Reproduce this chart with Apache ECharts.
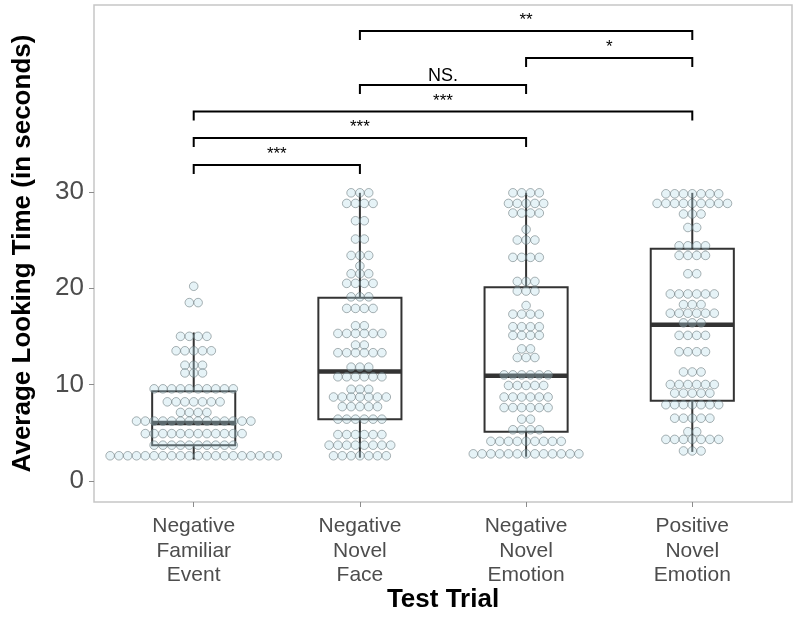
<!DOCTYPE html>
<html>
<head>
<meta charset="utf-8">
<script src="https://cdn.jsdelivr.net/npm/echarts@6/dist/echarts.min.js"></script>
<style>html,body{margin:0;padding:0;background:#fff}#c{width:800px;height:632px}</style>
</head>
<body>
<div id="c"></div>
<script>
// ---- data ----
const categories = ['Negative\nFamiliar\nEvent', 'Negative\nNovel\nFace', 'Negative\nNovel\nEmotion', 'Positive\nNovel\nEmotion'];
const yTickValues = [0, 10, 20, 30];

// dot-plot bins: [looking time (s), number of infants in that bin]
const dotsNegFamiliarEvent = [[20.2,1],[18.5,2],[15.0,4],[13.5,5],[12.0,3],[11.2,3],[9.55,10],[8.2,7],[7.1,4],[6.2,14],[4.9,12],[3.7,10],[2.6,20]];
const dotsNegNovelFace = [[29.9,3],[28.8,4],[27.0,2],[25.1,2],[23.4,3],[22.3,1],[21.5,3],[20.5,4],[19.1,3],[17.9,4],[16.1,2],[15.3,6],[14.1,2],[13.3,6],[11.8,3],[10.8,6],[9.5,3],[8.7,7],[7.7,5],[6.4,6],[4.8,6],[3.7,8],[2.6,7]];
const dotsNegNovelEmotion = [[29.9,4],[28.8,5],[27.8,4],[26.1,1],[25.0,3],[23.2,4],[20.7,3],[19.7,3],[18.2,1],[17.3,4],[16.0,4],[15.1,4],[13.7,2],[12.8,3],[11.0,6],[9.9,5],[8.7,6],[7.6,6],[6.4,2],[5.3,4],[4.1,9],[2.8,13]];
const dotsPosNovelEmotion = [[29.8,7],[28.8,9],[27.7,3],[26.3,2],[24.4,4],[23.4,4],[21.5,2],[19.4,6],[18.3,3],[17.4,6],[16.4,3],[15.1,4],[13.4,4],[11.3,3],[10.0,6],[9.1,5],[7.9,7],[6.5,5],[5.1,2],[4.3,7],[3.1,3]];

// box stats: [lower whisker, Q1, median, Q3, upper whisker]
const boxNegFamiliarEvent = [2.2, 3.7, 6.0, 9.3, 15.4];
const boxNegNovelFace = [2.4, 6.4, 11.35, 19.0, 29.9];
const boxNegNovelEmotion = [2.5, 5.1, 10.9, 20.1, 29.9];
const boxPosNovelEmotion = [3.0, 8.3, 16.2, 24.1, 29.9];

// significance brackets: [from group, to group, height (s), label]
const brackets = [[1,2,32.8,'***'],[1,3,35.6,'***'],[1,4,38.35,'***'],[2,3,41.1,'NS.'],[3,4,43.9,'*'],[2,4,46.7,'**']];

// ---- build chart ----
const FONT = "'Liberation Sans', Arial, Helvetica, sans-serif";
const dotGroups = [dotsNegFamiliarEvent, dotsNegNovelFace, dotsNegNovelEmotion, dotsPosNovelEmotion];
const dotData = [];
dotGroups.forEach((g, i) => g.forEach(([v, n]) => dotData.push([i + 1, v, n])));
const boxData = [boxNegFamiliarEvent, boxNegNovelFace, boxNegNovelEmotion, boxPosNovelEmotion].map((b, i) => [i + 1, ...b]);
const bracketData = brackets.map(b => [b[0], b[1], b[2]]);

const DOT_STEP = 8.8, DOT_R = 4.3;
const chart = echarts.init(document.getElementById('c'));
chart.setOption({
  animation: false,
  grid: {left: 94, right: 8, top: 5, bottom: 130, show: true, borderColor: '#c6c6c6', borderWidth: 1.5, backgroundColor: '#fff'},
  xAxis: {
    type: 'value', min: 0.4, max: 4.6,
    axisLine: {show: false, onZero: false}, splitLine: {show: false},
    axisTick: {show: true, customValues: [1, 2, 3, 4], length: 5, lineStyle: {color: '#8c8c8c', width: 1}},
    axisLabel: {customValues: [1, 2, 3, 4], formatter: v => categories[Math.round(v) - 1], fontSize: 21, lineHeight: 24.5, color: '#4d4d4d', fontFamily: FONT, margin: 12},
    name: 'Test Trial', nameLocation: 'middle', nameGap: 85, nameMoveOverlap: false,
    nameTextStyle: {fontSize: 26, fontWeight: 'bold', color: '#000', fontFamily: FONT}
  },
  yAxis: {
    type: 'value', min: -2.2, max: 49.4,
    axisLine: {show: false, onZero: false}, splitLine: {show: false},
    axisTick: {show: true, customValues: yTickValues, length: 5, lineStyle: {color: '#8c8c8c', width: 1}},
    axisLabel: {customValues: yTickValues, fontSize: 26, color: '#4d4d4d', fontFamily: FONT, margin: 10},
    name: 'Average Looking Time (in seconds)', nameLocation: 'middle', nameGap: 58, nameRotate: 90,
    nameTextStyle: {fontSize: 26, fontWeight: 'bold', color: '#000', fontFamily: FONT}
  },
  series: [
    {
      type: 'custom', z: 2, data: boxData,
      encode: {x: 0, y: [1, 2, 3, 4, 5]},
      renderItem(params, api) {
        const x = api.value(0);
        const lo = api.value(1), q1 = api.value(2), med = api.value(3), q3 = api.value(4), hi = api.value(5);
        const hw = 0.25;
        const c = (xx, v) => api.coord([xx, v]);
        const tl = c(x - hw, q3), br = c(x + hw, q1);
        const st = {stroke: '#333', lineWidth: 2};
        return {type: 'group', children: [
          {type: 'line', shape: {x1: c(x, hi)[0], y1: c(x, hi)[1], x2: c(x, q3)[0], y2: c(x, q3)[1]}, style: st},
          {type: 'line', shape: {x1: c(x, lo)[0], y1: c(x, lo)[1], x2: c(x, q1)[0], y2: c(x, q1)[1]}, style: st},
          {type: 'rect', shape: {x: tl[0], y: tl[1], width: br[0] - tl[0], height: br[1] - tl[1]}, style: {fill: 'none', stroke: '#333', lineWidth: 2}},
          {type: 'line', shape: {x1: c(x - hw, med)[0], y1: c(x, med)[1], x2: c(x + hw, med)[0], y2: c(x, med)[1]}, style: {stroke: '#333', lineWidth: 4.5}}
        ]};
      }
    },
    {
      type: 'custom', z: 3, data: dotData,
      encode: {x: 0, y: 1},
      renderItem(params, api) {
        const p = api.coord([api.value(0), api.value(1)]);
        const n = api.value(2);
        const children = [];
        for (let k = 0; k < n; k++) {
          children.push({type: 'circle', shape: {cx: p[0] + (k - (n - 1) / 2) * DOT_STEP, cy: p[1], r: DOT_R},
            style: {fill: 'rgba(180,220,232,0.33)', stroke: 'rgba(100,114,118,0.55)', lineWidth: 1}});
        }
        return {type: 'group', children};
      }
    },
    {
      type: 'custom', z: 4, data: bracketData,
      encode: {x: [0, 1], y: 2},
      renderItem(params, api) {
        const a = api.coord([api.value(0), api.value(2)]);
        const b = api.coord([api.value(1), api.value(2)]);
        const label = brackets[params.dataIndex][3];
        const isNS = label === 'NS.';
        return {type: 'group', children: [
          {type: 'polyline', shape: {points: [[a[0], a[1] + 9], [a[0], a[1]], [b[0], b[1]], [b[0], b[1] + 9]]},
            style: {stroke: '#000', lineWidth: 2, fill: 'none'}},
          {type: 'text', x: (a[0] + b[0]) / 2, y: a[1] - (isNS ? 0 : 2),
            style: {text: label, fontSize: isNS ? 18 : 17, fontFamily: FONT, fill: '#000', align: 'center', verticalAlign: 'bottom'}}
        ]};
      }
    }
  ]
});
</script>
</body>
</html>
